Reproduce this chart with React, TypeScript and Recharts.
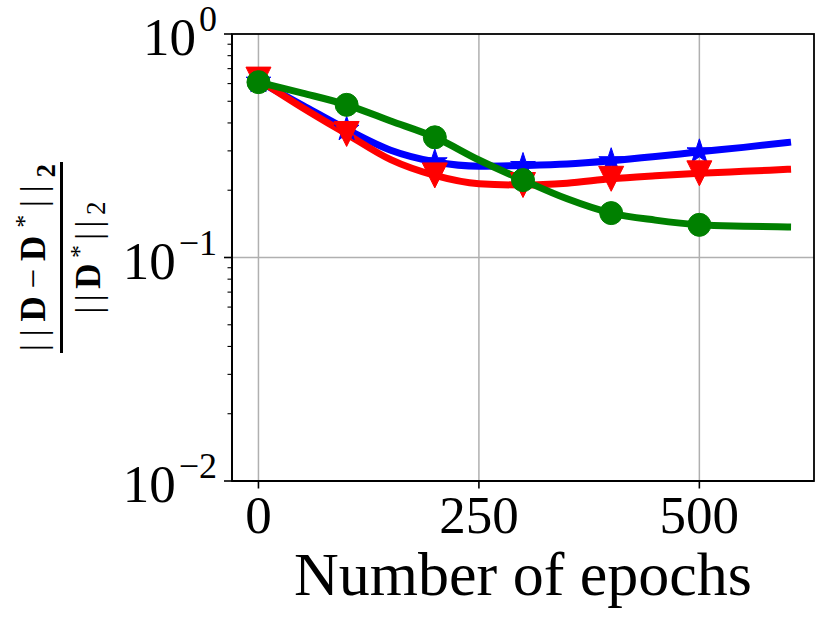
import { LineChart, Line, XAxis, YAxis, CartesianGrid } from "recharts";

// Relative error ||D - D*||_2 / ||D*||_2 over training epochs, three runs.
// Values at every 50 epochs; markers every 100.

const epochs = [0, 50, 100, 150, 200, 250, 300, 350, 400, 450, 500, 550, 600];
const blueErr = [0.615, 0.48, 0.375, 0.302, 0.268, 0.256, 0.258, 0.262, 0.271, 0.283, 0.297, 0.311, 0.327];
const redErr = [0.625, 0.468, 0.357, 0.274, 0.233, 0.214, 0.211, 0.215, 0.225, 0.232, 0.238, 0.243, 0.248];
const greenErr = [0.609, 0.544, 0.482, 0.408, 0.345, 0.273, 0.222, 0.183, 0.158, 0.147, 0.14, 0.138, 0.137];

const markerEpochs = [0, 100, 200, 300, 400, 500];
const xTicks = [0, 250, 500];
const yMajorTicks = [0.01, 0.1, 1];
const yExponents = ["\u22122", "\u22121", "0"];
const yMinorTicks = [0.02, 0.03, 0.04, 0.05, 0.06, 0.07, 0.08, 0.09, 0.2, 0.3, 0.4, 0.5, 0.6, 0.7, 0.8, 0.9];

const data = epochs.map((epoch, i) => ({
  epoch,
  blue: blueErr[i],
  red: redErr[i],
  green: greenErr[i],
}));

const W = 829;
const H = 622;
const PLOT_LEFT = 232;
const PLOT_RIGHT = 814;
const PLOT_TOP = 34;
const PLOT_BOTTOM = 481;
const FONT = "'Liberation Serif', 'Times New Roman', serif";
const SPINE = 1.8;

function XTick({ x, payload }: any) {
  return (
    <g>
      <line x1={x} x2={x} y1={PLOT_BOTTOM} y2={PLOT_BOTTOM + 7.5} stroke="#000" strokeWidth={1.6} />
      <text x={x} y={533} textAnchor="middle" fontSize={53} fontFamily={FONT} fill="#000">
        {payload.value}
      </text>
    </g>
  );
}

function YTick({ y, payload }: any) {
  const major = yMajorTicks.indexOf(payload.value);
  const len = major >= 0 ? 8 : 4.5;
  return (
    <g>
      <line
        x1={PLOT_LEFT - len}
        x2={PLOT_LEFT}
        y1={y}
        y2={y}
        stroke="#000"
        strokeWidth={major >= 0 ? 1.6 : 1.1}
      />
      {major >= 0 && (
        <text x={PLOT_LEFT - 15} y={y + 21} textAnchor="end" fontSize={53} fontFamily={FONT} fill="#000">
          10
          <tspan fontSize={36} dx={3} dy={-24}>
            {yExponents[major]}
          </tspan>
        </text>
      )}
    </g>
  );
}

function XLabel() {
  return (
    <text
      x={(PLOT_LEFT + PLOT_RIGHT) / 2}
      y={595}
      textAnchor="middle"
      fontSize={62}
      fontFamily={FONT}
      fill="#000"
    >
      Number of epochs
    </text>
  );
}

// y label (a fraction) plus the closed frame round the plot area
function YLabel() {
  const cy = (PLOT_TOP + PLOT_BOTTOM) / 2;
  return (
    <g fontFamily={FONT} fill="#000">
      <rect
        x={PLOT_LEFT}
        y={PLOT_TOP}
        width={PLOT_RIGHT - PLOT_LEFT}
        height={PLOT_BOTTOM - PLOT_TOP}
        fill="none"
        stroke="#000"
        strokeWidth={SPINE}
      />
      <text
        transform={`translate(45 ${cy}) rotate(-90)`}
        textAnchor="middle"
        fontSize={35}
        textLength={187}
        lengthAdjust="spacing"
      >
        <tspan>||</tspan>
        <tspan fontWeight="bold">D</tspan>
        <tspan>{"\u2212"}</tspan>
        <tspan fontWeight="bold">D</tspan>
        <tspan fontSize={26} dy={-12}>*</tspan>
        <tspan dy={12}>||</tspan>
        <tspan fontWeight="bold" fontSize={27} dy={10}>2</tspan>
      </text>
      <line x1={61.5} x2={61.5} y1={162} y2={353} stroke="#000" strokeWidth={3} />
      <text
        transform={`translate(100 ${cy}) rotate(-90)`}
        textAnchor="middle"
        fontSize={35}
        textLength={112}
        lengthAdjust="spacing"
      >
        <tspan>||</tspan>
        <tspan fontWeight="bold">D</tspan>
        <tspan fontSize={26} dy={-12}>*</tspan>
        <tspan dy={12}>||</tspan>
        <tspan fontSize={27} dy={5}>2</tspan>
      </text>
    </g>
  );
}

function makeDot(shape: "star" | "tri" | "circle", color: string) {
  return (props: any) => {
    const { cx, cy, payload, index } = props;
    if (cx == null || cy == null || !markerEpochs.includes(payload.epoch)) {
      return <g key={index} />;
    }
    if (shape === "circle") {
      return <circle key={index} cx={cx} cy={cy} r={11.5} fill={color} stroke={color} />;
    }
    if (shape === "tri") {
      const h = 12.5;
      const pts = `${cx},${cy + h} ${cx - h},${cy - h} ${cx + h},${cy - h}`;
      return <polygon key={index} points={pts} fill={color} stroke={color} />;
    }
    const outer = 13;
    const inner = outer * 0.382;
    const pts: string[] = [];
    for (let i = 0; i < 10; i++) {
      const a = ((-90 + i * 36) * Math.PI) / 180;
      const r = i % 2 === 0 ? outer : inner;
      pts.push(`${cx + r * Math.cos(a)},${cy + r * Math.sin(a)}`);
    }
    return <polygon key={index} points={pts.join(" ")} fill={color} stroke={color} />;
  };
}

export default function App() {
  return (
    <div style={{ position: "absolute", left: 0, top: 0, width: W, height: H, background: "#fff" }}>
      <LineChart
        width={W}
        height={H}
        data={data}
        margin={{ top: PLOT_TOP, right: W - PLOT_RIGHT, bottom: 0, left: 0 }}
      >
        <CartesianGrid
          verticalValues={xTicks}
          horizontalValues={[0.1]}
          stroke="#b0b0b0"
          strokeWidth={1.5}
        />
        <XAxis
          dataKey="epoch"
          type="number"
          domain={[-30, 630]}
          ticks={xTicks}
          interval={0}
          height={H - PLOT_BOTTOM}
          tickLine={false}
          tickSize={0}
          tickMargin={0}
          tick={<XTick />}
          axisLine={{ stroke: "#000", strokeWidth: SPINE }}
          label={XLabel}
        />
        <YAxis
          type="number"
          scale="log"
          domain={[0.01, 1]}
          ticks={[...yMajorTicks, ...yMinorTicks]}
          interval={0}
          width={PLOT_LEFT}
          tickLine={false}
          tickSize={0}
          tickMargin={0}
          tick={<YTick />}
          axisLine={{ stroke: "#000", strokeWidth: SPINE }}
          label={YLabel}
        />
        <Line
          dataKey="blue"
          type="monotone"
          stroke="#0000ff"
          strokeWidth={7}
          strokeLinecap="square"
          dot={makeDot("star", "#0000ff")}
          activeDot={false}
          isAnimationActive={false}
        />
        <Line
          dataKey="red"
          type="monotone"
          stroke="#ff0000"
          strokeWidth={7}
          strokeLinecap="square"
          dot={makeDot("tri", "#ff0000")}
          activeDot={false}
          isAnimationActive={false}
        />
        <Line
          dataKey="green"
          type="monotone"
          stroke="#008000"
          strokeWidth={7}
          strokeLinecap="square"
          dot={makeDot("circle", "#008000")}
          activeDot={false}
          isAnimationActive={false}
        />
      </LineChart>
    </div>
  );
}
